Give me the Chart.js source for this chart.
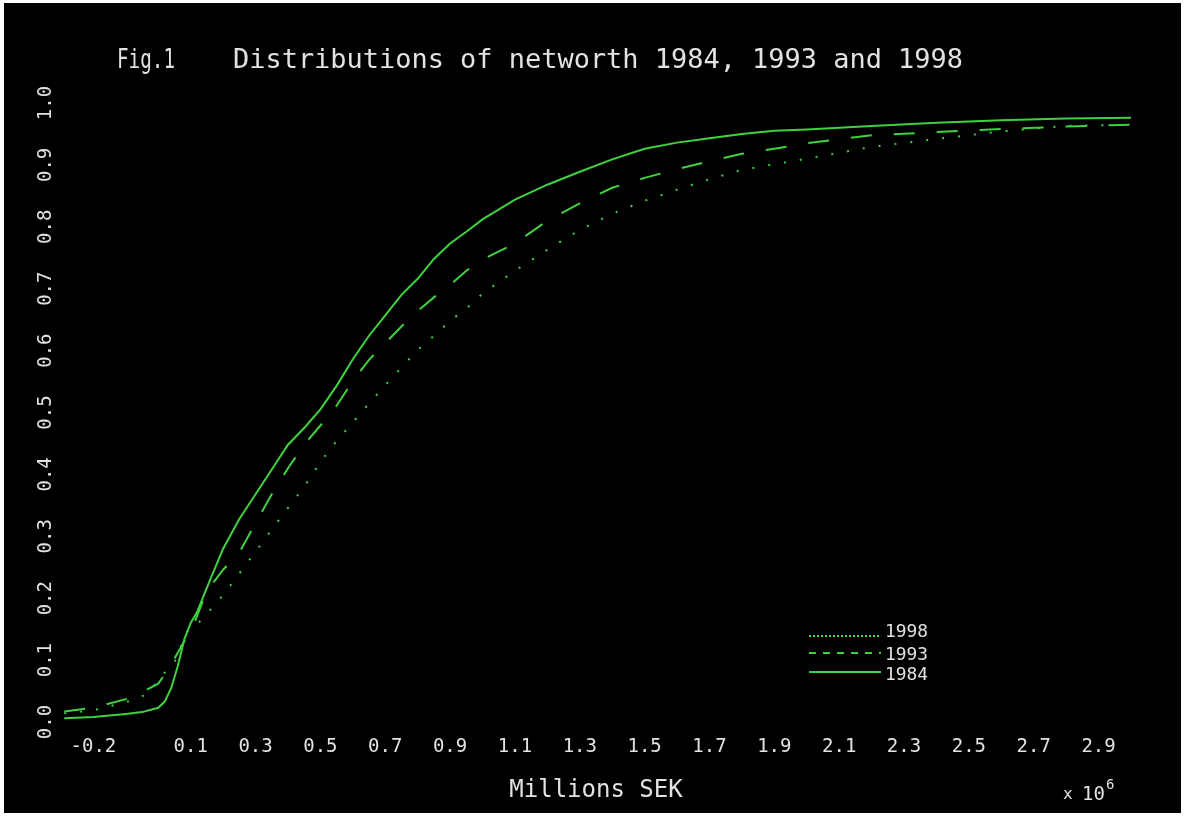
<!DOCTYPE html>
<html>
<head>
<meta charset="utf-8">
<title>Fig.1 Distributions of networth 1984, 1993 and 1998</title>
<script src="https://cdn.jsdelivr.net/npm/chart.js@4.4.1/dist/chart.umd.min.js"></script>
<style>
  html, body { margin: 0; padding: 0; background: #ffffff; }
  #frame { position: absolute; left: 4px; top: 3px; width: 1177px; height: 810px; background: #000000; }
  canvas { display: block; }
</style>
</head>
<body>
<div id="frame"><canvas id="cdf" width="1177" height="810"></canvas></div>
<script>
// Net worth, millions SEK (axis scaled by 10^6)
const netWorth = [-0.29, -0.2, -0.1, -0.05, 0, 0.02, 0.04, 0.06, 0.08, 0.1, 0.12, 0.15,
  0.2, 0.25, 0.3, 0.35, 0.4, 0.45, 0.5, 0.55, 0.6, 0.65, 0.7, 0.75, 0.8, 0.85, 0.9, 0.95, 1.0,
  1.1, 1.2, 1.3, 1.4, 1.5, 1.6, 1.7, 1.8, 1.9, 2.0, 2.2, 2.4, 2.6, 2.8, 3.0];

// Cumulative share of households at or below each net worth
const share1984 = [0.006, 0.008, 0.013, 0.016, 0.023, 0.033, 0.055, 0.090, 0.133, 0.160, 0.178, 0.217,
  0.280, 0.328, 0.368, 0.408, 0.448, 0.475, 0.505, 0.543, 0.586, 0.624, 0.657, 0.690, 0.716, 0.748, 0.773, 0.792, 0.812,
  0.844, 0.868, 0.889, 0.909, 0.926, 0.936, 0.943, 0.950, 0.955, 0.957, 0.963, 0.968, 0.972, 0.975, 0.976];
const share1993 = [0.017, 0.023, 0.037, 0.048, 0.062, 0.077, 0.093, 0.112, 0.130, 0.145, 0.172, 0.212,
  0.246, 0.274, 0.321, 0.368, 0.410, 0.448, 0.479, 0.511, 0.551, 0.585, 0.612, 0.639, 0.664, 0.686, 0.706, 0.729, 0.747,
  0.773, 0.810, 0.838, 0.863, 0.879, 0.893, 0.906, 0.918, 0.926, 0.935, 0.948, 0.953, 0.958, 0.962, 0.965];
const share1998 = [0.014, 0.019, 0.032, 0.041, 0.065, 0.080, 0.090, 0.105, 0.140, 0.152, 0.158, 0.175,
  0.205, 0.240, 0.275, 0.311, 0.346, 0.380, 0.420, 0.454, 0.484, 0.515, 0.544, 0.573, 0.601, 0.624, 0.648, 0.668, 0.692,
  0.729, 0.763, 0.795, 0.821, 0.842, 0.860, 0.877, 0.892, 0.901, 0.910, 0.929, 0.942, 0.954, 0.963, 0.965];

const seriesNames = ['1998', '1993', '1984'];

const xTickValues = [-0.2, 0.1, 0.3, 0.5, 0.7, 0.9, 1.1, 1.3, 1.5, 1.7, 1.9, 2.1, 2.3, 2.5, 2.7, 2.9];
const xTickLabels = ['-0.2', '0.1', '0.3', '0.5', '0.7', '0.9', '1.1', '1.3', '1.5', '1.7', '1.9', '2.1', '2.3', '2.5', '2.7', '2.9'];
const yTickValues = [0, 0.1, 0.2, 0.3, 0.4, 0.5, 0.6, 0.7, 0.8, 0.9, 1.0];
const yTickLabels = ['0.0', '0.1', '0.2', '0.3', '0.4', '0.5', '0.6', '0.7', '0.8', '0.9', '1.0'];

const FONT = '"DejaVu Sans Mono", "Liberation Mono", monospace';
const INK = '#e2e2e2';
const GREEN = '#3fd23f';

const toPoints = (ys) => netWorth.map((x, i) => ({ x, y: ys[i] }));

// Draws text stretched or squeezed horizontally to a given width.
function fitText(ctx, text, x, y, width) {
  const w = ctx.measureText(text).width;
  ctx.save();
  ctx.translate(x, y);
  ctx.scale(width / w, 1);
  ctx.fillText(text, 0, 0);
  ctx.restore();
}

// Title, rotated y tick labels, exponent note and the line legend.
const figureText = {
  id: 'figureText',
  afterDraw(chart) {
    const ctx = chart.ctx;
    const yScale = chart.scales.y;
    ctx.save();
    ctx.fillStyle = INK;
    ctx.textAlign = 'left';
    ctx.textBaseline = 'alphabetic';

    ctx.font = `26px ${FONT}`;
    fitText(ctx, 'Fig.1', 113, 65, 58);
    fitText(ctx, 'Distributions of networth 1984, 1993 and 1998', 229, 65, 730);

    ctx.font = `19px ${FONT}`;
    ctx.textAlign = 'center';
    ctx.textBaseline = 'middle';
    yTickValues.forEach((v, i) => {
      ctx.save();
      ctx.translate(42, yScale.getPixelForValue(v));
      ctx.rotate(-Math.PI / 2);
      ctx.fillText(yTickLabels[i], 0, 0);
      ctx.restore();
    });

    ctx.textAlign = 'left';
    ctx.textBaseline = 'alphabetic';
    ctx.font = `16px ${FONT}`;
    ctx.fillText('x', 1059, 796);
    ctx.font = `19px ${FONT}`;
    ctx.fillText('10', 1078, 797);
    ctx.font = `14px ${FONT}`;
    ctx.fillText('6', 1102, 786);

    // legend
    const lineY = [633, 650, 669];
    const textY = [629, 652, 672];
    chart.data.datasets.forEach((ds, i) => {
      ctx.save();
      ctx.strokeStyle = ds.borderColor;
      ctx.lineWidth = 2;
      ctx.setLineDash(ds.legendDash);
      ctx.beginPath();
      ctx.moveTo(805, lineY[i]);
      ctx.lineTo(877, lineY[i]);
      ctx.stroke();
      ctx.restore();
      ctx.font = `18px ${FONT}`;
      ctx.textBaseline = 'middle';
      fitText(ctx, ds.label, 881, textY[i], 43);
    });
    ctx.restore();
  }
};

new Chart(document.getElementById('cdf'), {
  type: 'line',
  data: {
    datasets: [
      { label: seriesNames[0], data: toPoints(share1998), borderDash: [2, 14], legendDash: [2, 2] },
      { label: seriesNames[1], data: toPoints(share1993), borderDash: [21, 22], legendDash: [7, 7] },
      { label: seriesNames[2], data: toPoints(share1984), borderDash: [], legendDash: [] }
    ].map(ds => Object.assign(ds, {
      borderColor: GREEN,
      backgroundColor: GREEN,
      borderWidth: 2,
      pointRadius: 0,
      tension: 0,
      fill: false
    }))
  },
  options: {
    responsive: false,
    animation: false,
    events: [],
    layout: { padding: { left: 57, right: 50, top: 100, bottom: 0 } },
    plugins: {
      legend: { display: false },
      title: { display: false },
      tooltip: { enabled: false }
    },
    scales: {
      x: {
        type: 'linear',
        min: -0.3,
        max: 3.0,
        grid: { display: false },
        border: { display: false },
        afterBuildTicks: (scale) => { scale.ticks = xTickValues.map(value => ({ value })); },
        afterFit: (scale) => { scale.height = 91; },
        ticks: {
          autoSkip: false,
          maxRotation: 0,
          minRotation: 0,
          padding: 6,
          color: INK,
          font: { family: FONT, size: 19 },
          callback: (value) => {
            const i = xTickValues.indexOf(value);
            return i >= 0 ? xTickLabels[i] : '';
          }
        },
        title: {
          display: true,
          text: 'Millions SEK',
          color: INK,
          font: { family: FONT, size: 24 },
          padding: { top: 0, bottom: 8 }
        }
      },
      y: {
        type: 'linear',
        display: false,
        min: 0,
        max: 1.0
      }
    }
  },
  plugins: [figureText]
});
</script>
</body>
</html>
